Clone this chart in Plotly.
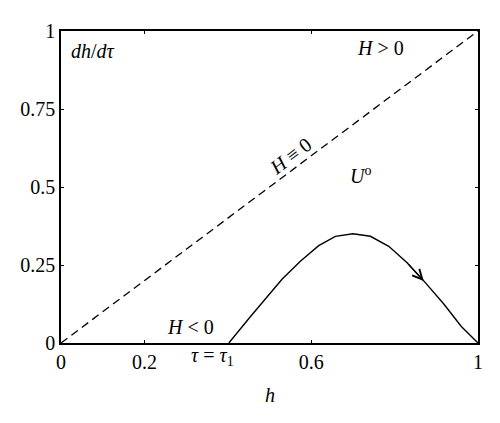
import plotly.graph_objects as go

# Data
h_curve = [0.4025, 0.4545, 0.530, 0.574, 0.618, 0.658, 0.700, 0.742, 0.786, 0.830, 0.870, 0.918, 0.960, 1.0]
v_curve = [0.0, 0.085, 0.204, 0.262, 0.312, 0.342, 0.350, 0.342, 0.310, 0.257, 0.199, 0.125, 0.053, 0.0]
diag_h = [0, 1]
diag_v = [0, 1]
x_ticks = [0, 0.2, 0.6, 1]
x_tick_labels = ["0", "0.2", "0.6", "1"]
y_ticks = [0, 0.25, 0.5, 0.75, 1]
y_tick_labels = ["0", "0.25", "0.5", "0.75", "1"]
arrow_idx = 10

FONT = "Liberation Serif, DejaVu Serif, serif"
fs = 20

fig = go.Figure()
fig.add_trace(go.Scatter(x=diag_h, y=diag_v, mode="lines",
                         line=dict(color="black", width=1.3, dash="8px,5px"),
                         showlegend=False, hoverinfo="skip"))
fig.add_trace(go.Scatter(x=h_curve, y=v_curve, mode="lines",
                         line=dict(color="black", width=1.4),
                         showlegend=False, hoverinfo="skip"))

ann = []
def txt(x, y, s, **kw):
    d = dict(x=x, y=y, xref="x", yref="y", text=s, showarrow=False,
             font=dict(family=FONT, size=fs, color="black"))
    d.update(kw)
    ann.append(d)

txt(0.02, 0.935, "<i>dh</i>/<i>dτ</i>", xanchor="left", yanchor="middle")
txt(0.766, 0.945, "<i>H</i> &gt; 0", xanchor="center", yanchor="middle")
txt(0.55, 0.60, "<i>H</i> ≡ 0", xanchor="center", yanchor="middle", textangle=-37)
txt(0.718, 0.538, "<i>U</i><sup>o</sup>", xanchor="center", yanchor="middle")
txt(0.31, 0.05, "<i>H</i> &lt; 0", xanchor="center", yanchor="middle")
ann.append(dict(x=0.363, y=0, xref="x", yref="paper", yshift=-13,
                text="<i>τ</i> = <i>τ</i><sub>1</sub>", showarrow=False,
                font=dict(family=FONT, size=fs, color="black"),
                xanchor="center", yanchor="middle"))
ann.append(dict(x=0.5, y=0, xref="x", yref="paper", yshift=-52, text="<i>h</i>",
                showarrow=False, font=dict(family=FONT, size=fs, color="black"),
                xanchor="center", yanchor="middle"))
ann.append(dict(x=h_curve[arrow_idx], y=v_curve[arrow_idx],
                ax=h_curve[arrow_idx - 1], ay=v_curve[arrow_idx - 1],
                xref="x", yref="y", axref="x", ayref="y", text="",
                showarrow=True, arrowhead=5, arrowsize=1.6, arrowwidth=1.2,
                arrowcolor="black"))

axis_common = dict(showline=True, linecolor="black", linewidth=1.5, mirror="ticks",
                   ticks="inside", ticklen=3, tickwidth=1.2, tickcolor="black",
                   showgrid=False, zeroline=False,
                   tickfont=dict(family=FONT, size=fs, color="black"))
fig.update_layout(
    width=492, height=415,
    margin=dict(l=52, r=22, t=20, b=80),
    paper_bgcolor="white", plot_bgcolor="white",
    xaxis=dict(range=[0, 1], tickvals=x_ticks, ticktext=x_tick_labels, **axis_common),
    yaxis=dict(range=[0, 1], tickvals=y_ticks, ticktext=y_tick_labels, **axis_common),
    annotations=ann,
)
fig.write_html("out.html")
